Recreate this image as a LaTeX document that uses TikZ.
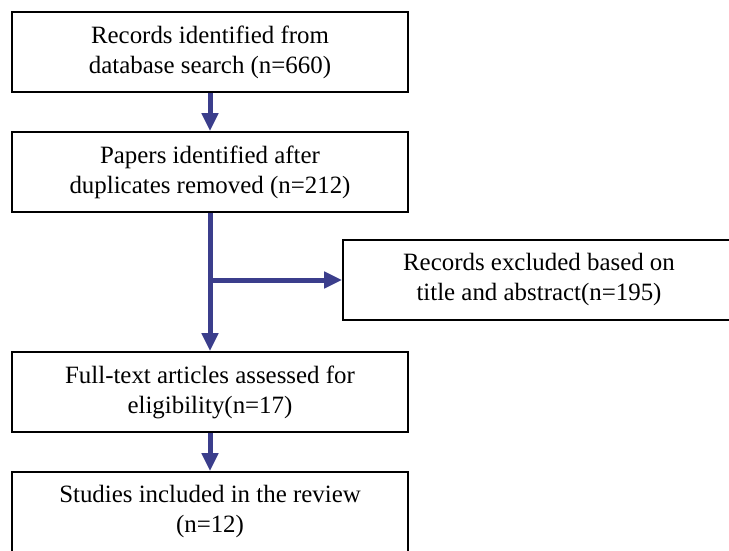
\documentclass[tikz,border=0pt]{standalone}
\usepackage{fontspec}
\setmainfont{Liberation Serif}
\usetikzlibrary{arrows.meta,positioning}
\definecolor{flowblue}{RGB}{59,62,140}

\begin{document}
\begin{tikzpicture}[x=1pt,y=1pt,align=center,
	box/.style={draw,line width=1.8pt,minimum width=396pt,minimum height=80pt,inner sep=0pt,font=\fontsize{24.9}{30}\selectfont},
	flow/.style={-{Triangle[length=18pt,width=16pt]},flowblue,line width=5pt}]
	\useasboundingbox (0,0) rectangle (729,-550);
	\clip (0,0) rectangle (729,-550);
	\draw (210,-52) node[box](records){Records identified from\\database search (n=660)};
	\draw (210,-172) node[box](papers){Papers identified after\\duplicates removed (n=212)};
	\draw (539,-280) node[box,minimum width=392pt](excluded){Records excluded based on\\title and abstract(n=195)};
	\draw (210,-392) node[box](fulltext){Full-text articles assessed for\\eligibility(n=17)};
	\draw (210,-512) node[box](included){Studies included in the review\\(n=12)};
	\coordinate (split) at (210,-280);
	\draw[flow](records.south) -- (papers.north);
	\draw[flow](papers.south) -- (fulltext.north);
	\draw[flow](split) -- (excluded.west);
	\draw[flow](fulltext.south) -- (included.north);
\end{tikzpicture}
\end{document}
